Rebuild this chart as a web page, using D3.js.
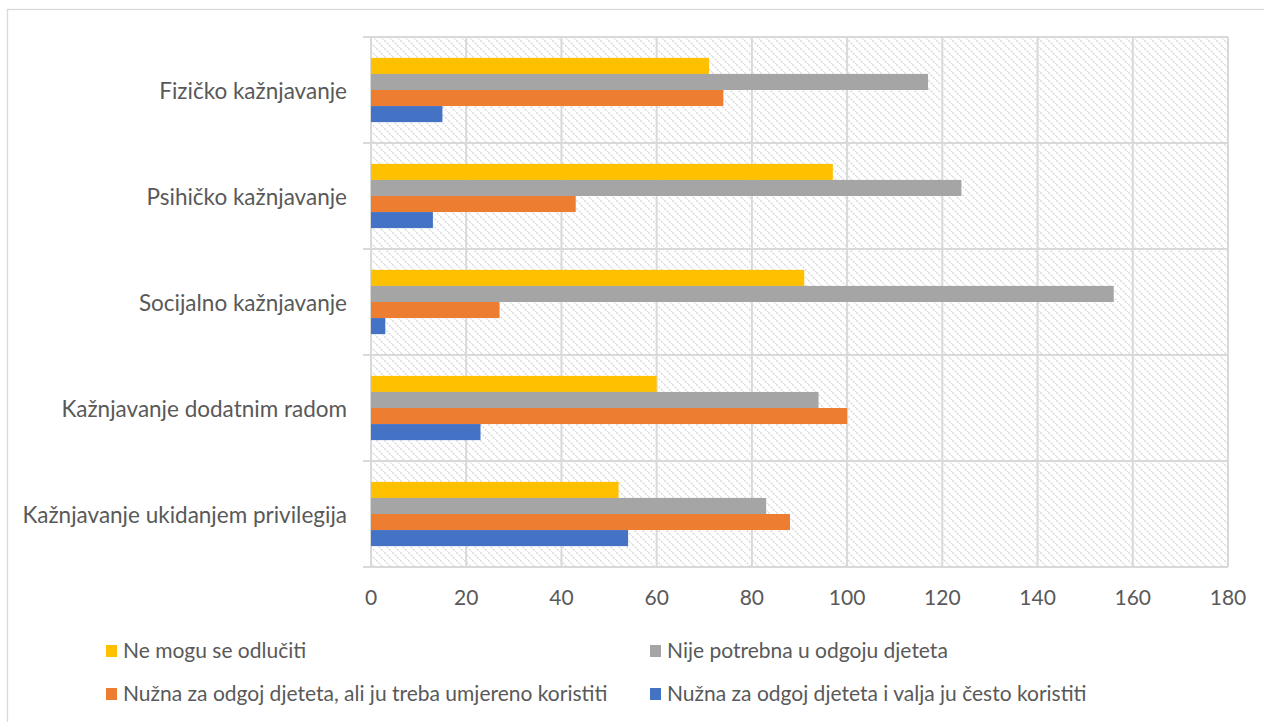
<!DOCTYPE html>
<html><head><meta charset="utf-8">
<script src="https://cdn.jsdelivr.net/npm/d3@7"></script>
<style>body{margin:0;background:#fff;} svg{display:block;} text{font-family:Lato,"Open Sans",sans-serif;fill:#595959;}</style>
</head><body>
<svg id="c" width="1264" height="722"></svg>
<script>
const categories = ["Fizičko kažnjavanje","Psihičko kažnjavanje","Socijalno kažnjavanje","Kažnjavanje dodatnim radom","Kažnjavanje ukidanjem privilegija"];
const seriesNames = ["Ne mogu se odlučiti","Nije potrebna u odgoju djeteta","Nužna za odgoj djeteta, ali ju treba umjereno koristiti","Nužna za odgoj djeteta i valja ju često koristiti"];
const seriesColors = ["#FFC000","#A5A5A5","#ED7D31","#4472C4"];
const neMogu = [71, 97, 91, 60, 52];
const nijePotrebna = [117, 124, 156, 94, 83];
const umjereno = [74, 43, 27, 100, 88];
const cesto = [15, 13, 3, 23, 54];
const xTicks = [0,20,40,60,80,100,120,140,160,180];

const seriesValues = [neMogu, nijePotrebna, umjereno, cesto];
const svg = d3.select("#c");
const grid = "#d9d9d9";

// outer chart border
svg.append("rect").attr("x",7.5).attr("y",9.5).attr("width",1262).attr("height",720)
  .attr("fill","none").attr("stroke",grid).attr("stroke-width",1.3);

const L=371, R=1228, T=37, B=567;
const x = d3.scaleLinear().domain([0,180]).range([L,R]);
const gap = 0.65/1.65;
const y0 = d3.scaleBand().domain(categories).range([T,B]).paddingInner(gap).paddingOuter(gap/2);
const y1 = d3.scaleBand().domain(seriesNames).range([0,y0.bandwidth()]);

// hatch pattern
const defs = svg.append("defs");
const pat = defs.append("pattern").attr("id","hatch").attr("patternUnits","userSpaceOnUse")
  .attr("width",8).attr("height",8);
pat.append("rect").attr("width",8).attr("height",8).attr("fill","#fff");
pat.append("path").attr("d","M-2,-2 L10,10 M-2,6 L2,10 M6,-2 L10,2")
  .attr("stroke","#dadada").attr("stroke-width",1.5).attr("stroke-dasharray","2,1.3");
svg.append("rect").attr("x",L).attr("y",T).attr("width",R-L).attr("height",B-T).attr("fill","url(#hatch)");

// vertical gridlines
svg.append("g").selectAll("line").data(xTicks).join("line")
  .attr("x1",d=>x(d)).attr("x2",d=>x(d)).attr("y1",T).attr("y2",B)
  .attr("stroke",grid).attr("stroke-width",2);
// horizontal category gridlines + ticks
const step = y0.step();
const bounds = d3.range(categories.length+1).map(i=>T+i*step);
svg.append("g").selectAll("line").data(bounds).join("line")
  .attr("x1",L-8).attr("x2",R).attr("y1",d=>d).attr("y2",d=>d)
  .attr("stroke",grid).attr("stroke-width",2);
svg.append("line").attr("x1",L).attr("x2",L).attr("y1",T).attr("y2",B).attr("stroke",grid).attr("stroke-width",2);

// bars
const g = svg.append("g");
categories.forEach((c,ci)=>{
  seriesNames.forEach((s,si)=>{
    g.append("rect").attr("x",x(0)).attr("y",y0(c)+y1(s))
      .attr("width",x(seriesValues[si][ci])-x(0)).attr("height",y1.bandwidth())
      .attr("fill",seriesColors[si]);
  });
});

// x axis labels
svg.append("g").selectAll("text").data(xTicks).join("text")
  .attr("x",d=>x(d)).attr("y",605).attr("text-anchor","middle")
  .style("font-size","21px").text(d=>d);

// category labels
svg.append("g").selectAll("text").data(categories).join("text")
  .attr("x",347).attr("y",d=>y0(d)+y0.bandwidth()/2+9).attr("text-anchor","end")
  .style("font-size","22.5px").text(d=>d);

// legend
const legPos = [[106,651],[650,651],[106,694],[650,694]];
seriesNames.forEach((s,i)=>{
  const [lx,ly]=legPos[i];
  svg.append("rect").attr("x",lx).attr("y",ly-6).attr("width",11).attr("height",12).attr("fill",seriesColors[i]);
  svg.append("text").attr("x",lx+17).attr("y",ly+7).style("font-size","21px").text(s);
});
</script>
</body></html>
